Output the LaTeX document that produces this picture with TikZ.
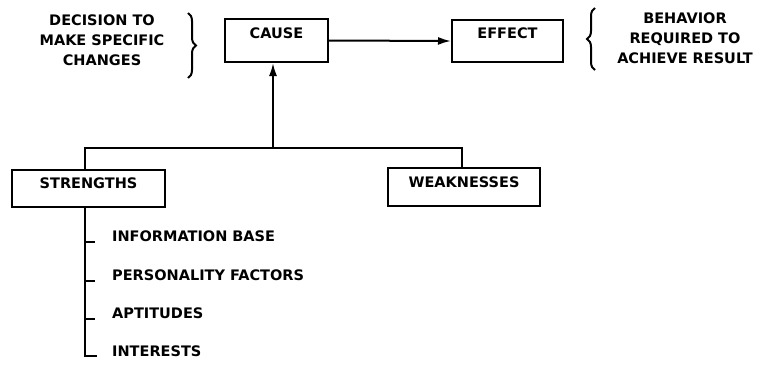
\documentclass[tikz,border=0pt]{standalone}
\usepackage{fontspec}
\setmainfont{DejaVu Sans}
\usetikzlibrary{arrows.meta,decorations.pathreplacing}
\begin{document}
\begin{tikzpicture}[x=1pt,y=-1pt,
  every node/.style={font=\fontsize{14.5}{20}\selectfont\bfseries},
  box/.style={draw, line width=2pt, inner xsep=0pt, inner ysep=0pt, rectangle},
  conn/.style={line width=2pt},
  arr/.style={conn, -{Latex[length=13pt,width=8pt]}},
  brc/.style={line width=2pt, decorate, decoration={brace, amplitude=8pt}},
  item/.style={anchor=west, text height=10.5pt, text depth=0pt, inner sep=0pt}]
\useasboundingbox (0,0) rectangle (763,367);

% boxes
\node[box, minimum width=103pt, text height=19pt, text depth=24pt] (cause) at (276.5,40.5) {CAUSE};
\node[box, minimum width=111pt, text height=18pt, text depth=24pt] (effect) at (507.5,41) {EFFECT};
\node[box, minimum width=153pt, text height=18pt, text depth=19pt] (str) at (88.5,188.5) {STRENGTHS};
\node[box, minimum width=152pt, text height=19pt, text depth=19pt] (weak) at (464,187) {WEAKNESSES};

% side texts
\node[align=center] (dec) at (102,40) {DECISION TO\\MAKE SPECIFIC\\CHANGES};
\node[align=center] (beh) at (685,38) {BEHAVIOR\\REQUIRED TO\\ACHIEVE RESULT};

% braces
\coordinate (lb1) at (188,13);
\coordinate (lb2) at (188,78);
\draw[brc] (lb1) -- (lb2);
\coordinate (rb1) at (595,70);
\coordinate (rb2) at (595,8);
\draw[brc] (rb1) -- (rb2);

% connectors
\draw[arr] (cause.east) -- (effect.west);
\coordinate (jn) at (273,148);
\coordinate (sj) at (85,148);
\coordinate (wj) at (462,148);
\draw[conn] (str.north -| sj) -- (sj) -- (wj) -- (weak.north -| wj);
\draw[arr] (jn) -- (cause.south -| jn);

% list under strengths
\node[item] (i1) at (112,236) {INFORMATION BASE};
\node[item] (i2) at (112,275) {PERSONALITY FACTORS};
\node[item] (i3) at (112,313) {APTITUDES};
\node[item] (i4) at (112,351) {INTERESTS};
\coordinate (foot) at (85,356);
\coordinate (footend) at (97,356);
\draw[conn] (str.south -| foot) -- (foot) -- (footend);
\coordinate (t1) at (85,242);
\coordinate (t2) at (85,281);
\coordinate (t3) at (85,319);
\foreach \t in {t1,t2,t3}{
  \draw[conn] (\t) -- ++(10,0);
}
\end{tikzpicture}
\end{document}
